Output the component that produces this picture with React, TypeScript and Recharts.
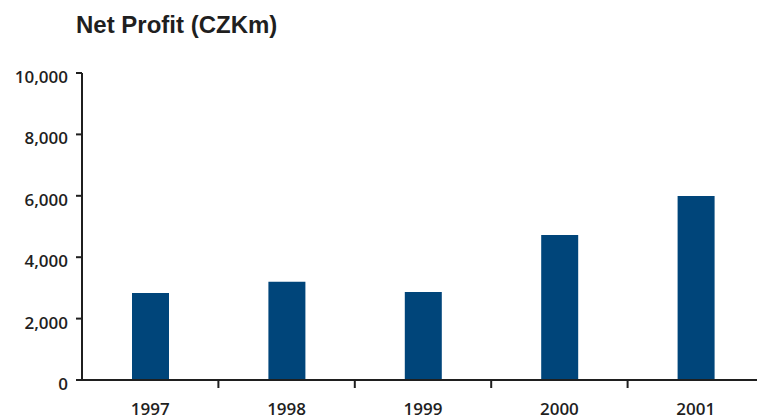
import React from 'react';
import { BarChart, Bar, XAxis, YAxis } from 'recharts';

const years = ['1997', '1998', '1999', '2000', '2001'];
const netProfit = [2830, 3200, 2870, 4720, 5990];
const yTicks = [0, 2000, 4000, 6000, 8000, 10000];

const data = years.map((year, i) => ({ year, profit: netProfit[i] }));

const ink = '#1f1f1f';
const barColor = '#00457A';
const tickFont = '"Open Sans", sans-serif';
const titleFont = '"Liberation Sans", Arial, sans-serif';

// year label at the band centre, plus a short tick at the band's left edge
const YearTick = (props: any) => {
  const { x, y, payload, index } = props;
  const half = payload?.offset ?? 0;
  const axisY = y - 24;
  return (
    <g>
      {index > 0 && (
        <line x1={x - half} x2={x - half} y1={axisY} y2={axisY + 8} stroke={ink} strokeWidth={2} />
      )}
      <text x={x} y={y + 11} textAnchor="middle" fill={ink} fontSize={17} fontWeight={600} fontFamily={tickFont}>
        {payload.value}
      </text>
    </g>
  );
};

const App: React.FC = () => {
  return (
    <div style={{ position: 'absolute', left: 0, top: 0, width: 757, height: 417, overflow: 'hidden', background: '#fff' }}>
      <div
        style={{
          position: 'absolute',
          left: 76,
          top: 11,
          fontFamily: titleFont,
          fontWeight: 'bold',
          fontSize: 24,
          color: ink,
          whiteSpace: 'nowrap',
        }}
      >
        Net Profit (CZKm)
      </div>
      <BarChart
        width={764}
        height={417}
        data={data}
        margin={{ top: 73, right: 0, bottom: 0, left: 0 }}
        barCategoryGap={0}
      >
        <XAxis
          dataKey="year"
          height={37}
          axisLine={{ stroke: ink, strokeWidth: 2 }}
          tickLine={false}
          tickSize={8}
          tickMargin={16}
          tick={<YearTick />}
        />
        <YAxis
          domain={[0, 10000]}
          ticks={yTicks}
          width={82}
          axisLine={{ stroke: ink, strokeWidth: 2 }}
          tickLine={{ stroke: ink, strokeWidth: 2 }}
          tickSize={6}
          tickMargin={8}
          tick={{ fill: ink, fontSize: 17, fontWeight: 600, fontFamily: tickFont, dy: 4 }}
          tickFormatter={(v: number) => v.toLocaleString('en-US')}
        />
        <Bar dataKey="profit" fill={barColor} barSize={37} isAnimationActive={false} />
      </BarChart>
    </div>
  );
};

export default App;
